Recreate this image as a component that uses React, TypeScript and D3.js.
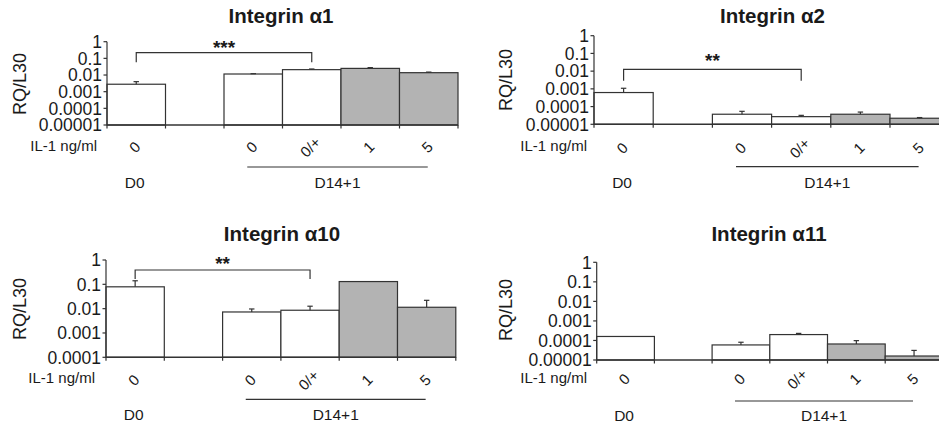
import React from "react";
import * as d3 from "d3";

// ---------- data ----------
const titles = ["Integrin α1", "Integrin α2", "Integrin α10", "Integrin α11"];
const doseLabels = ["0", "", "0", "0/+", "1", "5"];
const hasBar = [true, false, true, true, true, true];
const stimulated = [false, false, false, false, true, true];
const groupLabels = ["D0", "D14+1"];

const a1Mean = [0.0028, 0, 0.0115, 0.021, 0.025, 0.0138];
const a1Err = [0.004, 0, 0.012, 0.023, 0.028, 0.015];
const a2Mean = [0.00062, 0, 3.7e-5, 2.7e-5, 3.7e-5, 2.2e-5];
const a2Err = [0.00108, 0, 5.4e-5, 3.2e-5, 4.9e-5, 2.4e-5];
const a10Mean = [0.079, 0, 0.0073, 0.0086, 0.13, 0.0114];
const a10Err = [0.14, 0, 0.0097, 0.0126, 0.13, 0.022];
const a11Mean = [1.6e-4, 0, 5.9e-5, 2.0e-4, 6.6e-5, 1.6e-5];
const a11Err = [1.6e-4, 0, 8.1e-5, 2.3e-4, 9.8e-5, 3.1e-5];

const yTicks5 = [1e-5, 1e-4, 1e-3, 1e-2, 1e-1, 1];
const yTickLabels5 = ["0.00001", "0.0001", "0.001", "0.01", "0.1", "1"];
const yTicks4 = [1e-4, 1e-3, 1e-2, 1e-1, 1];
const yTickLabels4 = ["0.0001", "0.001", "0.01", "0.1", "1"];

const sigLabels = ["***", "**", "**", ""];
const sigFrom = [0, 0, 0, 0];
const sigTo = [3, 3, 3, 3];

const yAxisTitle = "RQ/L30";
const xAxisTitle = "IL-1 ng/ml";

// ---------- layout ----------
const layouts = [
  { x0: 107, slotW: 58.5, yTop: 41.7, yBase: 125, titleX: 281, titleY: 22.7, ilX: 97, ilY: 151, labY: 147, lineY: 167, dY: 188, brTop: 52.7, brEnd: 62.3, starY: 53.7, rqX: 19.3, rqY: 84 },
  { x0: 594, slotW: 59.2, yTop: 35.7, yBase: 124.3, titleX: 772.5, titleY: 23, ilX: 587, ilY: 151, labY: 148, lineY: 166.7, dY: 188, brTop: 69.3, brEnd: 80.7, starY: 67, rqX: 506, rqY: 80 },
  { x0: 106, slotW: 58.3, yTop: 260, yBase: 357.3, titleX: 282, titleY: 241, ilX: 95, ilY: 383, labY: 380, lineY: 399.3, dY: 420, brTop: 270, brEnd: 279, starY: 270, rqX: 19.3, rqY: 309 },
  { x0: 596.7, slotW: 57.7, yTop: 262.3, yBase: 360, titleX: 769, titleY: 241, ilX: 587, ilY: 383, labY: 379, lineY: 401, dY: 421, brTop: 0, brEnd: 0, starY: 0, rqX: 506, rqY: 310 },
];

const means = [a1Mean, a2Mean, a10Mean, a11Mean];
const errs = [a1Err, a2Err, a10Err, a11Err];
const ticksList = [yTicks5, yTicks5, yTicks4, yTicks5];
const tickLabelsList = [yTickLabels5, yTickLabels5, yTickLabels4, yTickLabels5];

const FONT = "'Liberation Sans', Arial, Helvetica, sans-serif";
const INK = "#1a1a1a";
const LINE = "#333333";
const GRAY = "#b3b3b3";

function Panel({ idx }: { idx: number }) {
  const L = layouts[idx];
  const mean = means[idx];
  const err = errs[idx];
  const ticks = ticksList[idx];
  const tickLabels = tickLabelsList[idx];
  const slots = d3.range(doseLabels.length);
  const x = d3
    .scaleBand<number>()
    .domain(slots)
    .range([L.x0, L.x0 + slots.length * L.slotW])
    .paddingInner(0)
    .paddingOuter(0);
  const y = d3.scaleLog().domain([ticks[0], 1]).range([L.yBase, L.yTop]);
  const bw = x.bandwidth();
  const cx = (i: number) => (x(i) as number) + bw / 2;
  const xEnd = L.x0 + slots.length * L.slotW;

  const sig = sigLabels[idx];
  const bx1 = cx(sigFrom[idx]);
  const bx2 = cx(sigTo[idx]);

  const lineX1 = cx(2) - 6;
  const lineX2 = cx(5) - 1;

  return (
    <g>
      <text x={L.titleX} y={L.titleY} textAnchor="middle" fontFamily={FONT} fontWeight="bold" fontSize={20.5} fill={INK}>
        {titles[idx]}
      </text>
      {/* bars */}
      {slots.map((i) =>
        hasBar[i] ? (
          <rect
            key={"b" + i}
            x={x(i) as number}
            y={y(mean[i])}
            width={bw}
            height={L.yBase - y(mean[i])}
            fill={stimulated[i] ? GRAY : "#ffffff"}
            stroke={LINE}
            strokeWidth={1.2}
          />
        ) : null
      )}
      {/* error bars */}
      {slots.map((i) =>
        hasBar[i] && err[i] > mean[i] ? (
          <g key={"e" + i} stroke={LINE} strokeWidth={1.2}>
            <line x1={cx(i)} x2={cx(i)} y1={y(mean[i])} y2={y(err[i])} />
            <line x1={cx(i) - 2.7} x2={cx(i) + 2.7} y1={y(err[i])} y2={y(err[i])} />
          </g>
        ) : null
      )}
      {/* y axis */}
      <line x1={L.x0} x2={L.x0} y1={L.yTop} y2={L.yBase} stroke={LINE} strokeWidth={1.2} />
      {ticks.map((t, k) => (
        <g key={"yt" + k}>
          <line x1={L.x0 - 3.5} x2={L.x0} y1={y(t)} y2={y(t)} stroke={LINE} strokeWidth={1.2} />
          <text x={L.x0 - 5} y={y(t)} dy="0.36em" textAnchor="end" fontFamily={FONT} fontSize={17.5} fill={INK}>
            {tickLabels[k]}
          </text>
        </g>
      ))}
      {/* x axis */}
      <line x1={L.x0} x2={xEnd} y1={L.yBase} y2={L.yBase} stroke={LINE} strokeWidth={1.5} />
      {d3.range(slots.length + 1).map((k) => (
        <line key={"xt" + k} x1={L.x0 + k * bw} x2={L.x0 + k * bw} y1={L.yBase} y2={L.yBase + 3.5} stroke={LINE} strokeWidth={1.2} />
      ))}
      {/* rotated dose labels */}
      {slots.map((i) =>
        doseLabels[i] ? (
          <text
            key={"dl" + i}
            transform={`translate(${cx(i) - 1.5},${L.labY}) rotate(-45)`}
            dy="0.36em"
            textAnchor="middle"
            fontFamily={FONT}
            fontSize={15}
            fill={INK}
          >
            {doseLabels[i]}
          </text>
        ) : null
      )}
      <text x={L.ilX} y={L.ilY} textAnchor="end" fontFamily={FONT} fontSize={15} fill={INK}>
        {xAxisTitle}
      </text>
      <text
        transform={`translate(${L.rqX},${L.rqY}) rotate(-90)`}
        dy="0.36em"
        textAnchor="middle"
        fontFamily={FONT}
        fontSize={18}
        fill={INK}
      >
        {yAxisTitle}
      </text>
      {/* group labels */}
      <line x1={lineX1} x2={lineX2} y1={L.lineY} y2={L.lineY} stroke={LINE} strokeWidth={1.2} />
      <text x={cx(0) - 1.5} y={L.dY} textAnchor="middle" fontFamily={FONT} fontSize={15.5} fill={INK}>
        {groupLabels[0]}
      </text>
      <text x={(lineX1 + lineX2) / 2} y={L.dY} textAnchor="middle" fontFamily={FONT} fontSize={15.5} fill={INK}>
        {groupLabels[1]}
      </text>
      {/* significance bracket */}
      {sig ? (
        <g>
          <path
            d={`M${bx1},${L.brEnd}V${L.brTop}H${bx2}V${L.brEnd}`}
            fill="none"
            stroke={LINE}
            strokeWidth={1.2}
          />
          <text x={(bx1 + bx2) / 2} y={L.starY} textAnchor="middle" fontFamily={FONT} fontWeight="bold" fontSize={19} fill={INK}>
            {sig}
          </text>
        </g>
      ) : null}
    </g>
  );
}

export default function App() {
  return (
    <svg
      width={939}
      height={426}
      viewBox="0 0 939 426"
      style={{ position: "absolute", left: 0, top: 0, background: "#ffffff", display: "block" }}
    >
      <rect x={0} y={0} width={939} height={426} fill="#ffffff" />
      {layouts.map((_, i) => (
        <Panel key={i} idx={i} />
      ))}
    </svg>
  );
}
